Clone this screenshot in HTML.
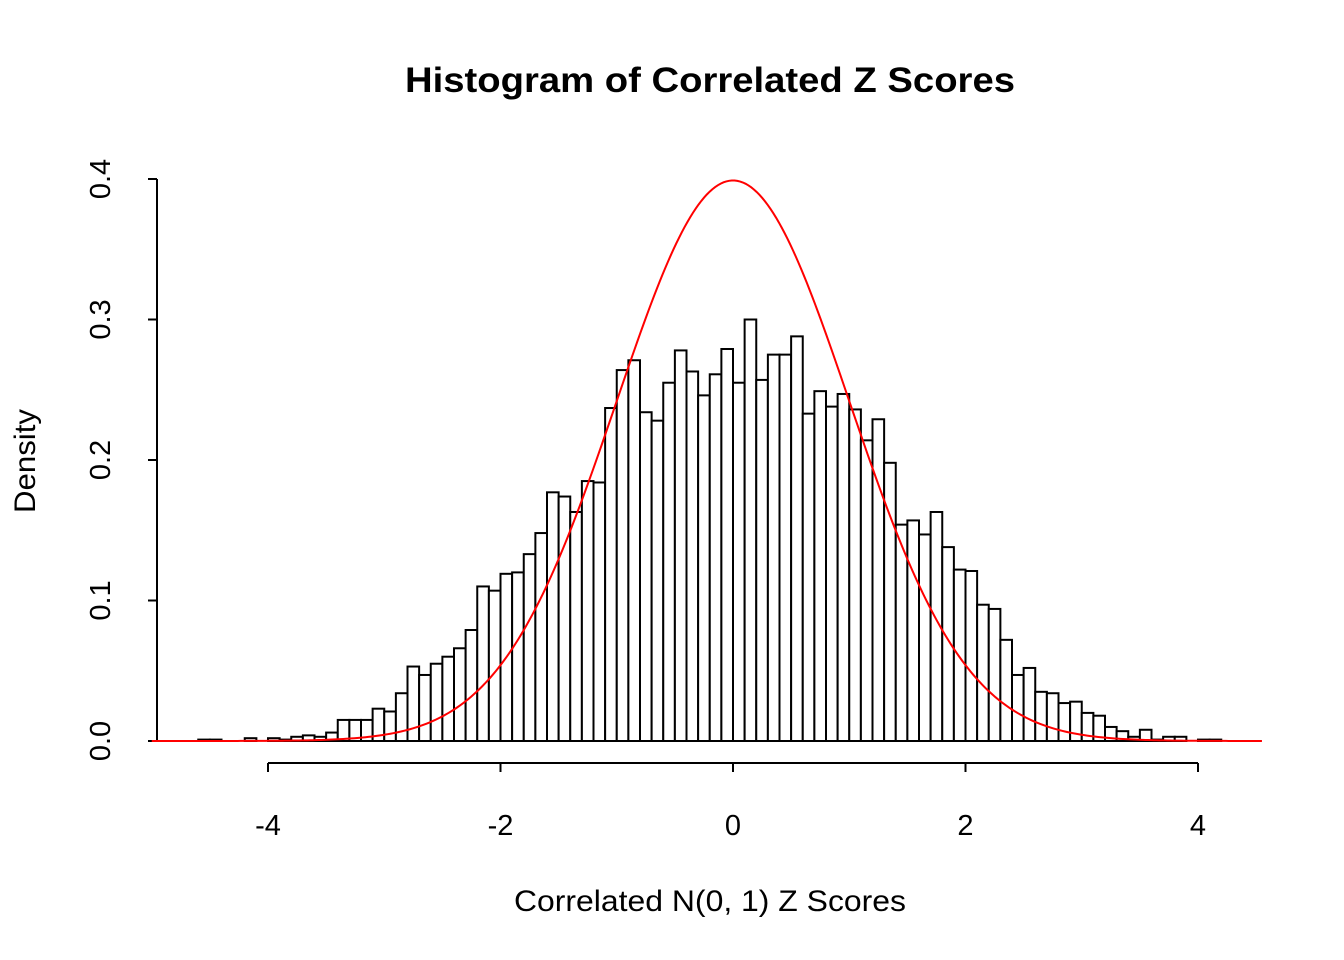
<!DOCTYPE html>
<html><head><meta charset="utf-8"><style>
body{margin:0;background:#fff}
svg{display:block;font-family:"Liberation Sans",Arial,sans-serif}
</style></head><body>
<svg id="chart" width="1344" height="960" xmlns="http://www.w3.org/2000/svg">
<text x="710" y="92" text-anchor="middle" font-size="35" font-weight="bold" textLength="610" lengthAdjust="spacingAndGlyphs">Histogram of Correlated Z Scores</text>
<text x="710" y="911" text-anchor="middle" font-size="30" textLength="392" lengthAdjust="spacingAndGlyphs">Correlated N(0, 1) Z Scores</text>
<text transform="translate(35,461) rotate(-90)" text-anchor="middle" font-size="30" textLength="104" lengthAdjust="spacingAndGlyphs">Density</text>
<g id="bars"></g>
<g id="axes"></g>
<path id="curve" fill="none" stroke="#ff0000" stroke-width="2"></path>
</svg>
<script>
const binStart = -4.6;
const binWidth = 0.1;
const densities = [0.001,0.001,0,0,0.002,0,0.002,0.001,0.003,0.004,0.003,0.006,0.015,0.015,0.015,0.023,0.021,0.034,0.053,0.047,0.055,0.060,0.066,0.079,0.110,0.107,0.119,0.120,0.133,0.148,0.177,0.174,0.163,0.185,0.184,0.237,0.264,0.271,0.234,0.228,0.255,0.278,0.263,0.246,0.261,0.279,0.255,0.300,0.257,0.275,0.275,0.288,0.233,0.249,0.238,0.247,0.236,0.214,0.229,0.198,0.154,0.157,0.147,0.163,0.138,0.122,0.121,0.097,0.094,0.072,0.047,0.052,0.035,0.034,0.027,0.028,0.020,0.018,0.010,0.007,0.003,0.008,0.001,0.003,0.003,0,0.001,0.001];
const xTicks = [-4,-2,0,2,4];
const xTickLabels = ["-4","-2","0","2","4"];
const yTicks = [0,0.1,0.2,0.3,0.4];
const yTickLabels = ["0.0","0.1","0.2","0.3","0.4"];
const curveRange = [-5, 4.55];

const NS="http://www.w3.org/2000/svg";
const X = v => 733 + v*116.25;
const Y = v => 741 - v*1405;
function mk(tag, attrs, parent){const e=document.createElementNS(NS,tag);for(const k in attrs)e.setAttribute(k,attrs[k]);parent.appendChild(e);return e;}
const bars=document.getElementById('bars');
densities.forEach((d,i)=>{
  const x0=X(binStart+i*binWidth), x1=X(binStart+(i+1)*binWidth);
  const r=mk('rect',{x:x0,y:Y(d),width:x1-x0,height:Y(0)-Y(d),fill:'#fff',stroke:'#000','stroke-width':2},bars);
  
  
});
const axes=document.getElementById('axes');
const xl=mk('line',{x1:X(xTicks[0]),x2:X(xTicks[xTicks.length-1]),y1:763,y2:763,stroke:'#000','stroke-width':2},axes);


xTicks.forEach((t,i)=>{
  mk('line',{x1:X(t),x2:X(t),y1:763,y2:772,stroke:'#000','stroke-width':2},axes);
  const tx=mk('text',{x:X(t),y:835,'text-anchor':'middle','font-size':29},axes);
  tx.textContent=xTickLabels[i];
  
  
});
const yl=mk('line',{x1:157,x2:157,y1:Y(yTicks[0]),y2:Y(yTicks[yTicks.length-1]),stroke:'#000','stroke-width':2},axes);


yTicks.forEach((t,i)=>{
  mk('line',{x1:148,x2:157,y1:Y(t),y2:Y(t),stroke:'#000','stroke-width':2},axes);
  const tx=mk('text',{transform:`translate(110,${Y(t)}) rotate(-90)`,'text-anchor':'middle','font-size':29},axes);
  tx.textContent=yTickLabels[i];
  
  
});
let d='';
for(let k=0;k<=400;k++){const v=curveRange[0]+(curveRange[1]-curveRange[0])*k/400;const p=Math.exp(-v*v/2)/Math.sqrt(2*Math.PI);d+=(k?'L':'M')+X(v).toFixed(2)+','+Y(p).toFixed(2);}
document.getElementById('curve').setAttribute('d',d);
</script>
</body></html>
